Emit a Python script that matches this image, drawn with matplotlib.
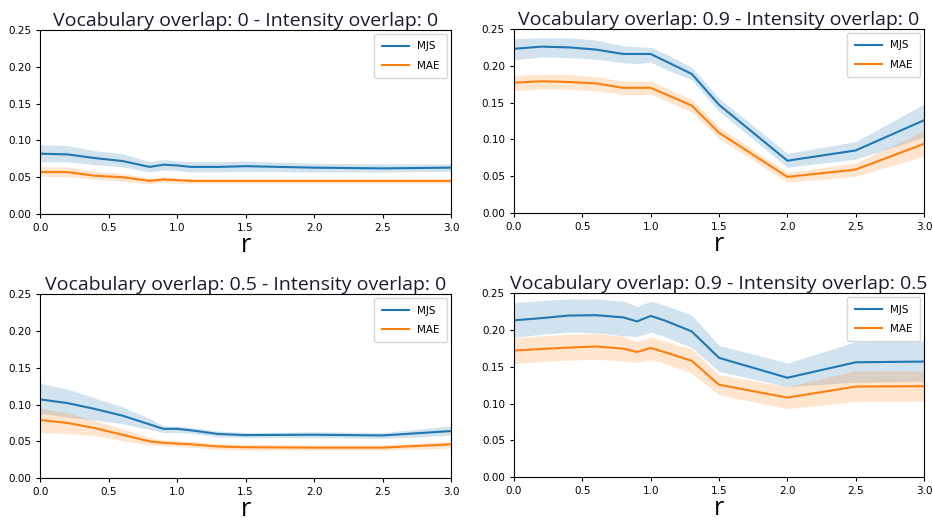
import matplotlib
matplotlib.use("Agg")
import matplotlib.pyplot as plt

# r values shared by every panel
r = [0.0, 0.2, 0.4, 0.6, 0.8, 0.9, 1.0, 1.1, 1.3, 1.5, 2.0, 2.5, 3.0]

# Vocabulary overlap 0 - Intensity overlap 0
mjs_00 = [0.082, 0.081, 0.076, 0.072, 0.064, 0.067, 0.066, 0.064, 0.064, 0.065, 0.063, 0.062, 0.063]
mjs_00_lo = [0.071, 0.071, 0.067, 0.064, 0.057, 0.060, 0.059, 0.057, 0.057, 0.058, 0.057, 0.057, 0.058]
mjs_00_hi = [0.094, 0.093, 0.086, 0.082, 0.071, 0.074, 0.072, 0.071, 0.071, 0.072, 0.069, 0.068, 0.068]
mae_00 = [0.057, 0.057, 0.052, 0.050, 0.045, 0.047, 0.046, 0.045, 0.045, 0.045, 0.045, 0.045, 0.045]
mae_00_lo = [0.051, 0.051, 0.047, 0.045, 0.041, 0.043, 0.042, 0.042, 0.042, 0.042, 0.042, 0.042, 0.042]
mae_00_hi = [0.064, 0.064, 0.058, 0.055, 0.049, 0.051, 0.049, 0.048, 0.048, 0.048, 0.048, 0.048, 0.048]

# Vocabulary overlap 0.9 - Intensity overlap 0
mjs_90 = [0.223, 0.226, 0.225, 0.222, 0.216, 0.216, 0.216, 0.207, 0.189, 0.147, 0.071, 0.085, 0.126]
mjs_90_lo = [0.208, 0.212, 0.211, 0.209, 0.204, 0.203, 0.205, 0.196, 0.181, 0.138, 0.062, 0.073, 0.103]
mjs_90_hi = [0.237, 0.238, 0.238, 0.235, 0.227, 0.226, 0.225, 0.217, 0.198, 0.156, 0.081, 0.097, 0.148]
mae_90 = [0.177, 0.179, 0.178, 0.176, 0.170, 0.170, 0.170, 0.162, 0.146, 0.109, 0.049, 0.059, 0.094]
mae_90_lo = [0.166, 0.169, 0.168, 0.166, 0.161, 0.161, 0.161, 0.153, 0.137, 0.101, 0.042, 0.050, 0.077]
mae_90_hi = [0.187, 0.188, 0.188, 0.185, 0.179, 0.179, 0.179, 0.171, 0.154, 0.117, 0.055, 0.068, 0.112]

# Vocabulary overlap 0.5 - Intensity overlap 0
mjs_50 = [0.107, 0.102, 0.094, 0.085, 0.073, 0.067, 0.067, 0.065, 0.060, 0.0585, 0.059, 0.058, 0.064]
mjs_50_lo = [0.088, 0.083, 0.079, 0.074, 0.066, 0.062, 0.062, 0.061, 0.056, 0.055, 0.055, 0.054, 0.058]
mjs_50_hi = [0.129, 0.121, 0.109, 0.097, 0.081, 0.071, 0.071, 0.069, 0.064, 0.062, 0.063, 0.062, 0.071]
mae_50 = [0.079, 0.075, 0.068, 0.059, 0.050, 0.048, 0.047, 0.046, 0.043, 0.042, 0.0415, 0.0415, 0.046]
mae_50_lo = [0.062, 0.061, 0.058, 0.051, 0.045, 0.044, 0.043, 0.042, 0.039, 0.038, 0.038, 0.038, 0.041]
mae_50_hi = [0.095, 0.089, 0.078, 0.067, 0.055, 0.052, 0.051, 0.050, 0.047, 0.046, 0.045, 0.045, 0.050]

# Vocabulary overlap 0.9 - Intensity overlap 0.5
mjs_95 = [0.213, 0.216, 0.2195, 0.220, 0.217, 0.2115, 0.219, 0.213, 0.198, 0.162, 0.135, 0.156, 0.157]
mjs_95_lo = [0.190, 0.194, 0.197, 0.196, 0.192, 0.191, 0.197, 0.191, 0.176, 0.1435, 0.123, 0.129, 0.130]
mjs_95_hi = [0.237, 0.240, 0.242, 0.242, 0.239, 0.232, 0.239, 0.234, 0.220, 0.179, 0.155, 0.184, 0.185]
mae_95 = [0.172, 0.174, 0.176, 0.1775, 0.1745, 0.170, 0.1755, 0.170, 0.158, 0.1255, 0.108, 0.123, 0.1235]
mae_95_lo = [0.154, 0.157, 0.159, 0.160, 0.158, 0.156, 0.160, 0.155, 0.141, 0.112, 0.093, 0.103, 0.103]
mae_95_hi = [0.189, 0.192, 0.194, 0.195, 0.191, 0.184, 0.190, 0.185, 0.174, 0.139, 0.123, 0.1445, 0.1445]

titles = ["Vocabulary overlap: 0 - Intensity overlap: 0",
          "Vocabulary overlap: 0.9 - Intensity overlap: 0",
          "Vocabulary overlap: 0.5 - Intensity overlap: 0",
          "Vocabulary overlap: 0.9 - Intensity overlap: 0.5"]

panels = [(mjs_00, mjs_00_lo, mjs_00_hi, mae_00, mae_00_lo, mae_00_hi),
          (mjs_90, mjs_90_lo, mjs_90_hi, mae_90, mae_90_lo, mae_90_hi),
          (mjs_50, mjs_50_lo, mjs_50_hi, mae_50, mae_50_lo, mae_50_hi),
          (mjs_95, mjs_95_lo, mjs_95_hi, mae_95, mae_95_lo, mae_95_hi)]

fig = plt.figure(figsize=(9.32, 5.22), dpi=100)

# axes boxes in figure fractions: top-left, top-right, bottom-left, bottom-right
boxes = [[0.043, 0.590, 0.441, 0.3525],
         [0.5515, 0.592, 0.440, 0.3525],
         [0.043, 0.084, 0.441, 0.3525],
         [0.5515, 0.086, 0.440, 0.3525]]

for box, title, data in zip(boxes, titles, panels):
    mjs, mjs_lo, mjs_hi, mae, mae_lo, mae_hi = data
    ax = fig.add_axes(box)

    ax.plot(r, mjs, color="#1f77b4", linewidth=1.5, label="MJS")
    ax.fill_between(r, mjs_lo, mjs_hi, color="#1f77b4", alpha=0.2, linewidth=0)
    ax.plot(r, mae, color="#ff7f0e", linewidth=1.5, label="MAE")
    ax.fill_between(r, mae_lo, mae_hi, color="#ff7f0e", alpha=0.2, linewidth=0)

    ax.set_xlim(0, 3)
    ax.set_ylim(0, 0.25)
    ax.set_xticks([0, 0.5, 1.0, 1.5, 2.0, 2.5, 3.0])
    ax.set_yticks([0, 0.05, 0.10, 0.15, 0.20, 0.25])
    ax.tick_params(labelsize=7.5, length=3)

    ax.set_title(title, fontsize=14, family="Open Sans", color="#1a1a2e", pad=3)
    ax.set_xlabel("r", fontsize=18, family="Open Sans", labelpad=0)
    ax.legend(loc="upper right", fontsize=7.5, handlelength=2.6, borderpad=0.7,
              labelspacing=0.9, borderaxespad=0.4)

plt.savefig("out.png", dpi=100)
